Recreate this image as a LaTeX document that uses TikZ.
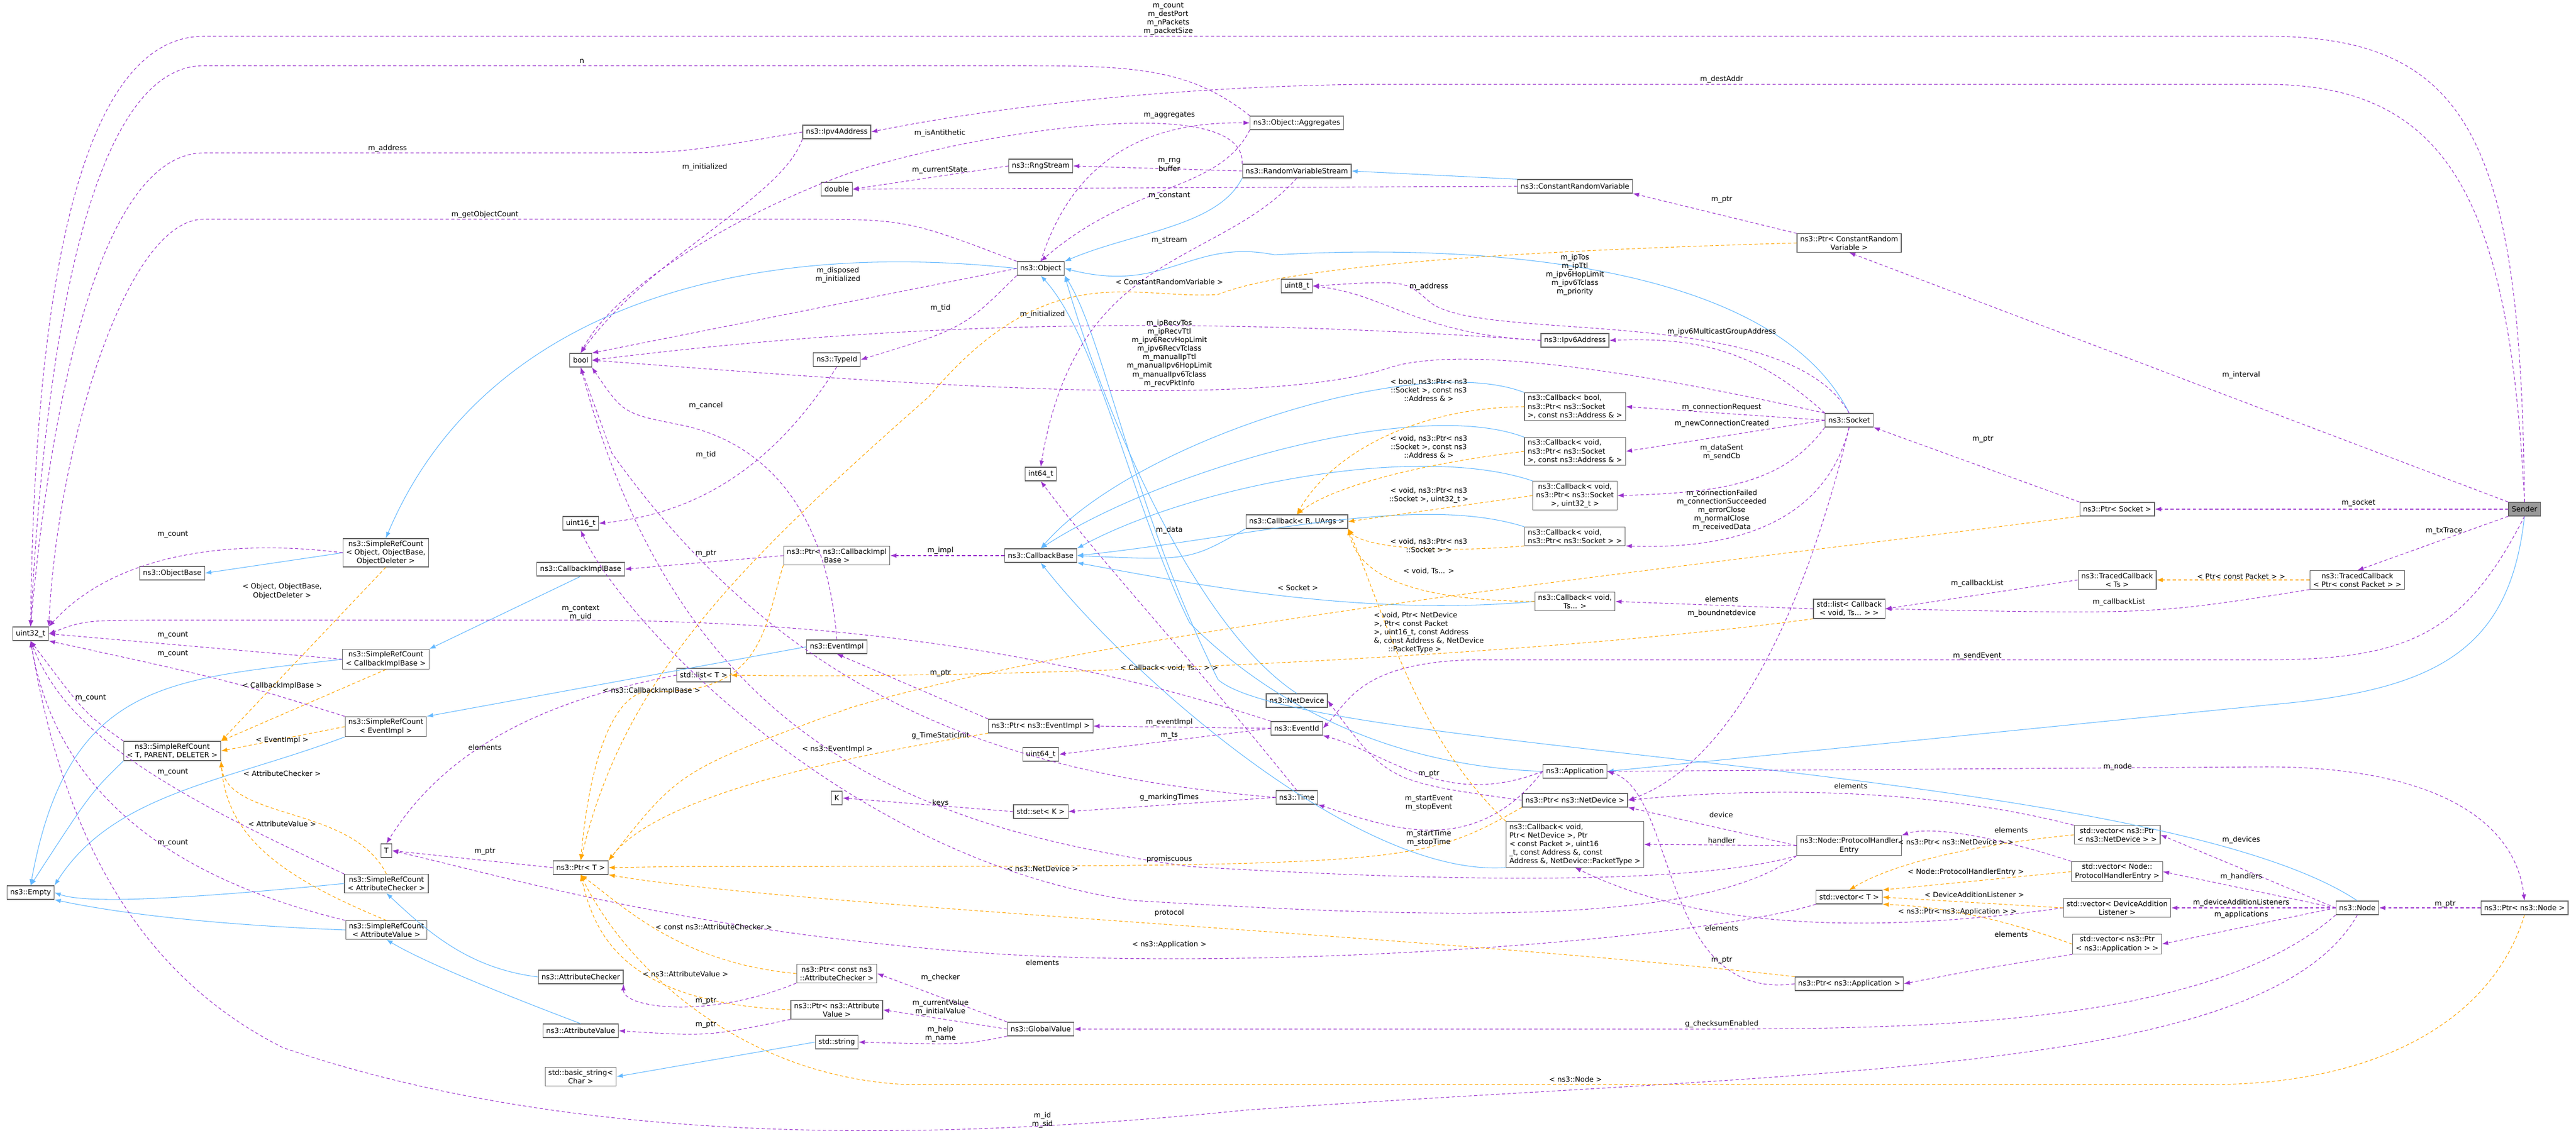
\documentclass[tikz,border=0pt]{standalone}
\usepackage{fontspec}
\setmainfont{DejaVu Sans}
\usepackage{xcolor}
\usetikzlibrary{arrows.meta, positioning}
\definecolor{usecol}{HTML}{9A32CD}
\definecolor{inhcol}{HTML}{63B8FF}
\definecolor{tplcol}{HTML}{FFA500}
\definecolor{boxcol}{HTML}{666666}

\begin{document}
\begin{tikzpicture}[
			font=\fontsize{3.6}{4.3}\selectfont,
			ClassBox/.style={
				draw=boxcol, line width=0.35pt, fill=white, align=center,
				inner xsep=1.6pt, inner ysep=1.1pt, minimum height=0.24cm
			},
			UseEdge/.style={draw=usecol, dash pattern=on 1.6pt off 1.2pt, line width=0.3pt,
				-{Latex[length=1.1mm,width=0.8mm]}},
			InhEdge/.style={draw=inhcol, line width=0.3pt, -{Latex[length=1.1mm,width=0.8mm]}},
			TplEdge/.style={draw=tplcol, dash pattern=on 1.6pt off 1.2pt, line width=0.3pt,
				-{Latex[length=1.1mm,width=0.8mm]}},
			EdgeLabel/.style={inner sep=0.3pt, align=center}
			]
			\useasboundingbox (0,0) rectangle (45.47,-20.27);
			
			% classes
			\node [ClassBox, fill={rgb,255:red,153;green,153;blue,153}] (Sender) at (44.56,-8.99) {Sender};
			\node [ClassBox] (Ipv4) at (14.77,-2.33) {ns3::Ipv4Address};
			\node [ClassBox] (Aggr) at (22.89,-2.17) {ns3::Object::Aggregates};
			\node [ClassBox] (Rng) at (18.37,-2.93) {ns3::RngStream};
			\node [ClassBox] (Rvs) at (22.89,-3.02) {ns3::RandomVariableStream};
			\node [ClassBox] (Dbl) at (14.77,-3.34) {double};
			\node [ClassBox] (Crv) at (27.80,-3.29) {ns3::ConstantRandomVariable};
			\node [ClassBox] (Obj) at (18.37,-4.74) {ns3::Object};
			\node [ClassBox] (PtrCrv) at (32.64,-4.29) {ns3::Ptr< ConstantRandom\\Variable >};
			\node [ClassBox] (UEight) at (22.89,-5.05) {uint8\_t};
			\node [ClassBox] (Bool) at (10.25,-6.36) {bool};
			\node [ClassBox] (Ipv6) at (27.80,-6.01) {ns3::Ipv6Address};
			\node [ClassBox] (TypeId) at (14.77,-6.35) {ns3::TypeId};
			\node [ClassBox] (Socket) at (32.64,-7.42) {ns3::Socket};
			\node [ClassBox, align=left] (CbBool) at (27.80,-7.18) {ns3::Callback< bool,\\ ns3::Ptr< ns3::Socket\\ >, const ns3::Address \& >};
			\node [ClassBox, align=left] (CbAddr) at (27.80,-7.97) {ns3::Callback< void,\\ ns3::Ptr< ns3::Socket\\ >, const ns3::Address \& >};
			\node [ClassBox] (CbUint) at (27.80,-8.75) {ns3::Callback< void,\\ ns3::Ptr< ns3::Socket\\ >, uint32\_t >};
			\node [ClassBox, align=left] (CbSock) at (27.80,-9.47) {ns3::Callback< void,\\ ns3::Ptr< ns3::Socket > >};
			\node [ClassBox] (SFour) at (18.37,-8.37) {int64\_t};
			\node [ClassBox] (USixteen) at (10.25,-9.24) {uint16\_t};
			\node [ClassBox] (SrcObj) at (6.81,-9.76) {ns3::SimpleRefCount\\< Object, ObjectBase,\\ ObjectDeleter >};
			\node [ClassBox] (CbImplBase) at (10.25,-10.05) {ns3::CallbackImplBase};
			\node [ClassBox] (PtrCbImpl) at (14.77,-9.81) {ns3::Ptr< ns3::CallbackImpl\\Base >};
			\node [ClassBox] (CbBase) at (18.37,-9.81) {ns3::CallbackBase};
			\node [ClassBox] (CbR) at (22.89,-9.21) {ns3::Callback< R, UArgs >};
			\node [ClassBox] (PtrSock) at (37.37,-8.99) {ns3::Ptr< Socket >};
			\node [ClassBox] (ObjBase) at (3.04,-10.12) {ns3::ObjectBase};
			\node [ClassBox] (UThirtyTwo) at (0.54,-11.19) {uint32\_t};
			\node [ClassBox] (SrcCbImpl) at (6.81,-11.64) {ns3::SimpleRefCount\\< CallbackImplBase >};
			\node [ClassBox] (CbTs) at (27.80,-10.62) {ns3::Callback< void,\\ Ts... >};
			\node [ClassBox] (ListCb) at (32.64,-10.75) {std::list< Callback\\< void, Ts... > >};
			\node [ClassBox] (TcTs) at (37.37,-10.24) {ns3::TracedCallback\\< Ts >};
			\node [ClassBox] (TcPkt) at (41.61,-10.24) {ns3::TracedCallback\\< Ptr< const Packet > >};
			\node [ClassBox] (EvImpl) at (14.77,-11.42) {ns3::EventImpl};
			\node [ClassBox] (ListT) at (12.42,-11.92) {std::list< T >};
			\node [ClassBox] (SrcEv) at (6.81,-12.83) {ns3::SimpleRefCount\\< EventImpl >};
			\node [ClassBox] (SrcTpd) at (3.04,-13.26) {ns3::SimpleRefCount\\< T, PARENT, DELETER >};
			\node [ClassBox] (NetDev) at (22.89,-12.37) {ns3::NetDevice};
			\node [ClassBox] (EvId) at (22.89,-12.86) {ns3::EventId};
			\node [ClassBox] (PtrEv) at (18.37,-12.82) {ns3::Ptr< ns3::EventImpl >};
			\node [ClassBox] (USixtyFour) at (18.37,-13.32) {uint64\_t};
			\node [ClassBox] (Time) at (22.89,-14.08) {ns3::Time};
			\node [ClassBox] (KT) at (14.77,-14.09) {K};
			\node [ClassBox] (SetK) at (18.37,-14.33) {std::set< K >};
			\node [ClassBox] (App) at (27.80,-13.62) {ns3::Application};
			\node [ClassBox] (PtrNetDev) at (27.80,-14.13) {ns3::Ptr< ns3::NetDevice >};
			\node [ClassBox, align=left] (CbNetDev) at (27.80,-14.91) {ns3::Callback< void,\\ Ptr< NetDevice >, Ptr\\< const Packet >, uint16\\\_t, const Address \&, const\\ Address \&, NetDevice::PacketType >};
			\node [ClassBox] (PhEntry) at (32.64,-14.93) {ns3::Node::ProtocolHandler\\Entry};
			\node [ClassBox] (VecT) at (32.64,-15.84) {std::vector< T >};
			\node [ClassBox] (PtrApp) at (32.64,-17.37) {ns3::Ptr< ns3::Application >};
			\node [ClassBox] (VecNetDev) at (37.37,-14.74) {std::vector< ns3::Ptr\\< ns3::NetDevice > >};
			\node [ClassBox] (VecPh) at (37.37,-15.39) {std::vector< Node::\\ProtocolHandlerEntry >};
			\node [ClassBox] (VecDal) at (37.37,-16.03) {std::vector< DeviceAddition\\Listener >};
			\node [ClassBox] (VecApp) at (37.37,-16.67) {std::vector< ns3::Ptr\\< ns3::Application > >};
			\node [ClassBox] (Node) at (41.61,-16.03) {ns3::Node};
			\node [ClassBox] (PtrNode) at (44.56,-16.03) {ns3::Ptr< ns3::Node >};
			\node [ClassBox] (TT) at (6.82,-15.02) {T};
			\node [ClassBox] (PtrT) at (10.25,-15.32) {ns3::Ptr< T >};
			\node [ClassBox] (Empty) at (0.54,-15.76) {ns3::Empty};
			\node [ClassBox] (SrcAc) at (6.82,-15.60) {ns3::SimpleRefCount\\< AttributeChecker >};
			\node [ClassBox] (SrcAv) at (6.82,-16.42) {ns3::SimpleRefCount\\< AttributeValue >};
			\node [ClassBox] (PtrAc) at (14.77,-17.19) {ns3::Ptr< const ns3\\::AttributeChecker >};
			\node [ClassBox] (PtrAv) at (14.77,-17.83) {ns3::Ptr< ns3::Attribute\\Value >};
			\node [ClassBox] (GVal) at (18.37,-18.17) {ns3::GlobalValue};
			\node [ClassBox] (StdStr) at (14.77,-18.40) {std::string};
			\node [ClassBox] (AttrChk) at (10.25,-17.25) {ns3::AttributeChecker};
			\node [ClassBox] (AttrVal) at (10.25,-18.20) {ns3::AttributeValue};
			\node [ClassBox] (BStr) at (10.25,-19.01) {std::basic\_string<\\Char >};
			
			% inheritance
			\draw [InhEdge] (Rvs.south west) .. controls (21.5,-4.0) and (20,-4.1) .. (Obj.north east);
			\draw [InhEdge] (Crv.north west) -- (Rvs.east);
			\draw [InhEdge] (Obj.west) .. controls (13,-4.2) and (8.5,-5.5) .. (SrcObj.north);
			\draw [InhEdge] (SrcObj.west) -- (ObjBase.east);
			\draw [InhEdge] (CbImplBase.south) -- (SrcCbImpl.north east);
			\draw [InhEdge] (EvImpl.west) -- (SrcEv.north east);
			\draw [InhEdge] (AttrChk.west) .. controls (8.3,-17.1) and (7.6,-16.5) .. (SrcAc.south);
			\draw [InhEdge] (AttrVal.north) .. controls (9,-17.6) and (7.5,-17) .. (SrcAv.south);
			\draw [InhEdge] (StdStr.west) -- (BStr.east);
			\draw [InhEdge] (SrcCbImpl.west) .. controls (3,-12.0) and (1.2,-12) .. (Empty.north);
			\draw [InhEdge] (SrcEv.south west) .. controls (4,-13.8) and (2,-14) .. (Empty.north east);
			\draw [InhEdge] (SrcTpd.south west) .. controls (1.6,-14) .. (Empty.north);
			\draw [InhEdge] (SrcAc.west) .. controls (3,-15.9) and (1.5,-15.95) .. (Empty.east);
			\draw [InhEdge] (SrcAv.west) .. controls (3,-16.3) and (1.5,-16) .. (Empty.south east);
			\draw [InhEdge] (Socket.north) .. controls (31.3,-4.6) and (26,-4.3) .. (22.5,-4.5) .. controls (21,-4.2) and (20.6,-5.2) .. (Obj.east);
			\draw [InhEdge] (NetDev.north) .. controls (21,-11) and (19.4,-7) .. (Obj.south east);
			\draw [InhEdge] (Node.north) .. controls (38,-13.5) and (23,-13.3) .. (21.5,-12) .. controls (20,-9) and (19.5,-6) .. (Obj.south east);
			\draw [InhEdge] (App.west) .. controls (24,-13.5) and (22,-12) .. (21,-11) .. controls (20,-9) and (19.4,-6) .. (Obj.south);
			\draw [InhEdge] (Sender.south) .. controls (44.3,-11.5) and (43,-12.2) .. (40,-12.45) -- (App.east);
			\draw [InhEdge] (CbR.south west) .. controls (21,-9.9) .. (CbBase.east);
			\draw [InhEdge] (CbBool.north west) .. controls (25,-6.2) and (20,-7.8) .. (CbBase.north);
			\draw [InhEdge] (CbAddr.north west) .. controls (25,-7.0) and (20.5,-8.3) .. (CbBase.north);
			\draw [InhEdge] (CbUint.north west) .. controls (25,-7.8) and (21,-8.6) .. (CbBase.north east);
			\draw [InhEdge] (CbSock.north west) .. controls (25,-8.7) and (22,-9.5) .. (CbBase.east);
			\draw [InhEdge] (CbTs.west) .. controls (24,-10.9) and (21,-10.3) .. (CbBase.south east);
			\draw [InhEdge] (CbNetDev.south west) .. controls (24,-15.5) and (20,-12) .. (CbBase.south);
			
			% usage
			\draw [UseEdge] (Sender.north) .. controls (44.5,-2.5) and (43.6,-0.64) .. (40,-0.64) -- (3.6,-0.64) .. controls (1.2,-0.64) and (0.6,-6) .. (UThirtyTwo.north);
			\draw [UseEdge] (Sender.north) .. controls (44.3,-3.5) and (43.2,-1.49) .. (40,-1.49) -- (24,-1.49) .. controls (20,-1.55) and (17,-2.0) .. (Ipv4.east);
			\draw [UseEdge] (Aggr.north west) .. controls (21,-1.2) and (20,-1.16) .. (18,-1.16) -- (3.6,-1.16) .. controls (1.6,-1.16) and (0.8,-6) .. (UThirtyTwo.north);
			\draw [UseEdge] (Ipv4.west) .. controls (12,-2.7) .. (10.5,-2.70) -- (3.6,-2.70) .. controls (1.8,-2.7) and (0.9,-7) .. (UThirtyTwo.north);
			\draw [UseEdge] (Obj.north west) .. controls (16,-3.87) .. (14,-3.87) -- (3.6,-3.87) .. controls (2.2,-3.87) and (1.0,-8) .. (UThirtyTwo.north east);
			\draw [UseEdge] (Obj.west) -- (Bool.north east);
			\draw [UseEdge] (Obj.south west) .. controls (17,-5.8) .. (TypeId.east);
			\draw [UseEdge] (Obj.north) .. controls (19,-2.6) and (20.5,-2.15) .. (Aggr.west);
			\draw [UseEdge] (Aggr.south west) .. controls (21.5,-3.4) and (20,-3.2) .. (Obj.north);
			\draw [UseEdge] (Rvs.west) -- (Rng.east);
			\draw [UseEdge] (Rng.west) -- (Dbl.east);
			\draw [UseEdge] (Crv.west) -- (Dbl.east);
			\draw [UseEdge] (Rvs.north west) .. controls (22,-1.7) and (18,-2.2) .. (15.5,-2.9) .. controls (14,-3.3) and (11,-4.8) .. (Bool.north);
			\draw [UseEdge] (Ipv4.south west) .. controls (13.8,-3.5) and (11.5,-4.5) .. (Bool.north);
			\draw [UseEdge] (Rvs.south) .. controls (21.5,-4.7) and (19,-4.4) .. (SFour.north);
			\draw [UseEdge] (PtrCrv.north west) -- (Crv.south east);
			\draw [UseEdge] (Sender.north west) -- (PtrCrv.south);
			\draw [UseEdge] (Socket.north) .. controls (31.5,-5.3) and (26,-6.1) .. (25.2,-5.3) .. controls (24.8,-4.95) .. (UEight.east);
			\draw [UseEdge] (Ipv6.west) .. controls (25,-5.9) and (24.5,-5.2) .. (UEight.east);
			\draw [UseEdge] (Ipv6.west) .. controls (20,-5.5) and (15,-5.8) .. (Bool.east);
			\draw [UseEdge] (Socket.north west) .. controls (30,-6.8) and (26,-6.0) .. (24.5,-6.5) .. controls (22,-7.3) and (15,-6.7) .. (Bool.east);
			\draw [UseEdge] (Socket.north west) .. controls (31,-6.2) and (30,-5.95) .. (Ipv6.east);
			\draw [UseEdge] (Socket.west) -- (CbBool.east);
			\draw [UseEdge] (Socket.west) -- (CbAddr.east);
			\draw [UseEdge] (Socket.south west) .. controls (31.5,-8.5) and (30.5,-8.7) .. (CbUint.east);
			\draw [UseEdge] (Socket.south) .. controls (32.2,-9.3) and (30.5,-9.7) .. (CbSock.south east);
			\draw [UseEdge] (Socket.south) .. controls (31.8,-11) and (30.5,-13.5) .. (PtrNetDev.east);
			\draw [UseEdge] (PtrSock.north west) -- (Socket.south east);
			\draw [UseEdge] (Sender.west) -- (PtrSock.east);
			\draw [UseEdge] (Sender.south west) -- (TcPkt.north);
			\draw [UseEdge] (TcTs.west) -- (ListCb.east);
			\draw [UseEdge] (TcPkt.south west) .. controls (38,-10.85) .. (ListCb.east);
			\draw [UseEdge] (ListCb.west) -- (CbTs.east);
			\draw [UseEdge] (Sender.south) .. controls (43.5,-11.2) and (42.5,-11.65) .. (40,-11.65) -- (26,-11.65) .. controls (24,-11.7) and (23.8,-12.4) .. (EvId.east);
			\draw [UseEdge] (App.east) -- (40,-13.54) .. controls (43,-13.54) and (44.4,-14.5) .. (PtrNode.north);
			\draw [UseEdge] (PtrNode.west) -- (Node.east);
			\draw [UseEdge] (Node.west) -- (VecNetDev.east);
			\draw [UseEdge] (Node.west) -- (VecPh.east);
			\draw [UseEdge] (Node.west) -- (VecDal.east);
			\draw [UseEdge] (Node.west) -- (VecApp.east);
			\draw [UseEdge] (Node.south) .. controls (40,-19) and (32,-18.9) .. (22,-19.6) .. controls (16,-20.2) and (10,-20.2) .. (5,-18.5) .. controls (2,-17) and (1,-14) .. (UThirtyTwo.south);
			\draw [UseEdge] (Node.south west) .. controls (39,-18.1) and (34,-18.17) .. (30,-18.17) -- (GVal.east);
			\draw [UseEdge] (VecNetDev.north west) .. controls (34,-13.9) and (31,-13.9) .. (PtrNetDev.east);
			\draw [UseEdge] (VecPh.north west) .. controls (35,-14.7) and (34,-14.6) .. (PhEntry.north east);
			\draw [UseEdge] (VecApp.south west) .. controls (35,-17.1) .. (PtrApp.east);
			\draw [UseEdge] (VecDal.west) .. controls (33,-16.5) and (30,-16.4) .. (CbNetDev.south);
			\draw [UseEdge] (PhEntry.west) -- (PtrNetDev.south east);
			\draw [UseEdge] (PhEntry.west) -- (CbNetDev.east);
			\draw [UseEdge] (PhEntry.south west) .. controls (30,-15.6) and (26,-15.6) .. (21,-15.3) .. controls (16,-14.6) and (12,-13) .. (Bool.south);
			\draw [UseEdge] (PhEntry.south west) .. controls (30,-16.4) and (25,-16.2) .. (20,-15.9) .. controls (15,-15.2) and (11,-11) .. (USixteen.south);
			\draw [UseEdge] (PtrApp.west) .. controls (29.3,-17.7) and (29.6,-14) .. (App.east);
			\draw [UseEdge] (PtrNetDev.west) .. controls (24.5,-13.8) .. (NetDev.east);
			\draw [UseEdge] (App.west) .. controls (25.5,-14.3) and (24.5,-13.3) .. (EvId.south east);
			\draw [UseEdge] (App.west) .. controls (26,-15.2) and (24.5,-14.6) .. (Time.south east);
			\draw [UseEdge] (EvId.west) -- (PtrEv.east);
			\draw [UseEdge] (EvId.west) -- (USixtyFour.east);
			\draw [UseEdge] (EvId.north west) .. controls (18,-11.3) and (14,-10.95) .. (10,-10.95) -- (3,-10.95) .. controls (1.5,-10.95) .. (UThirtyTwo.east);
			\draw [UseEdge] (PtrEv.north west) -- (EvImpl.south);
			\draw [UseEdge] (EvImpl.north) .. controls (14.6,-9) and (13.5,-7.8) .. (12,-7.5) .. controls (11,-7.3) .. (Bool.south east);
			\draw [UseEdge] (Time.west) -- (SetK.east);
			\draw [UseEdge] (Time.north) .. controls (20.5,-11) and (19.5,-10) .. (SFour.south);
			\draw [UseEdge] (Time.west) .. controls (18,-13.7) and (14,-12.5) .. (10.8,-8) -- (Bool.south);
			\draw [UseEdge] (SetK.west) -- (KT.east);
			\draw [UseEdge] (ListT.west) .. controls (10,-12.3) and (8,-13) .. (TT.north);
			\draw [UseEdge] (PtrT.west) -- (TT.east);
			\draw [UseEdge] (VecT.south west) .. controls (30,-16.6) and (22,-17.2) .. (17,-16.8) .. controls (12,-16.4) and (9,-15.5) .. (TT.east);
			\draw [UseEdge] (CbBase.west) -- (PtrCbImpl.east);
			\draw [UseEdge] (PtrCbImpl.west) -- (CbImplBase.east);
			\draw [UseEdge] (TypeId.south) .. controls (13.5,-8.5) and (12,-9.1) .. (USixteen.east);
			\draw [UseEdge] (SrcObj.west) .. controls (4,-9.5) and (2,-9.8) .. (UThirtyTwo.north east);
			\draw [UseEdge] (SrcCbImpl.west) -- (UThirtyTwo.east);
			\draw [UseEdge] (SrcEv.north west) .. controls (4,-12) .. (UThirtyTwo.south east);
			\draw [UseEdge] (SrcTpd.north west) .. controls (1.5,-12.6) .. (UThirtyTwo.south);
			\draw [UseEdge] (SrcAc.north west) .. controls (3,-14) and (1.2,-13) .. (UThirtyTwo.south);
			\draw [UseEdge] (SrcAv.north west) .. controls (3,-15.5) and (1,-14) .. (UThirtyTwo.south);
			\draw [UseEdge] (GVal.north west) -- (PtrAc.east);
			\draw [UseEdge] (GVal.west) -- (PtrAv.east);
			\draw [UseEdge] (GVal.south west) .. controls (17,-18.45) .. (StdStr.east);
			\draw [UseEdge] (PtrAc.south west) .. controls (12.5,-18) and (11,-17.8) .. (AttrChk.south east);
			\draw [UseEdge] (PtrAv.south west) .. controls (12.5,-18.3) .. (AttrVal.east);
			
			% template instances
			\draw [TplEdge] (SrcObj.south) -- (SrcTpd.north east);
			\draw [TplEdge] (SrcCbImpl.south) -- (SrcTpd.north east);
			\draw [TplEdge] (SrcEv.west) -- (SrcTpd.east);
			\draw [TplEdge] (SrcAc.north) .. controls (6.2,-14.2) and (4,-14.5) .. (SrcTpd.south east);
			\draw [TplEdge] (SrcAv.north) .. controls (5,-15.5) and (4,-14.8) .. (SrcTpd.south east);
			\draw [TplEdge] (PtrCrv.west) .. controls (28,-4.4) and (23,-4.6) .. (21.5,-5.2) .. controls (20,-5.3) and (18.5,-4.5) .. (16.4,-7) .. controls (13,-10) and (11,-12) .. (PtrT.north);
			\draw [TplEdge] (PtrCbImpl.south west) .. controls (13.5,-11) and (13.5,-12.3) .. (11.5,-12.2) .. controls (10.8,-12.2) and (10.4,-13.5) .. (PtrT.north);
			\draw [TplEdge] (PtrEv.south west) .. controls (14,-13.5) and (11.5,-14.2) .. (PtrT.north east);
			\draw [TplEdge] (PtrSock.south west) .. controls (30,-10) and (20,-11) .. (15,-12.5) .. controls (12,-13.6) .. (PtrT.north east);
			\draw [TplEdge] (PtrNetDev.south west) .. controls (25,-15.3) .. (12,-15.3) -- (PtrT.east);
			\draw [TplEdge] (PtrApp.north west) .. controls (25,-16.5) and (14,-16) .. (PtrT.south east);
			\draw [TplEdge] (PtrAc.west) .. controls (12,-17) and (11,-16) .. (PtrT.south);
			\draw [TplEdge] (PtrAv.west) .. controls (11,-17.7) and (10.5,-16.5) .. (PtrT.south);
			\draw [TplEdge] (PtrNode.south) .. controls (44,-18) and (42,-19.15) .. (39,-19.15) -- (16,-19.15) .. controls (13,-19) and (11,-17) .. (PtrT.south);
			\draw [TplEdge] (CbBool.west) .. controls (25,-7.2) and (23.5,-8) .. (CbR.north);
			\draw [TplEdge] (CbAddr.west) .. controls (25,-8.2) and (23.5,-8.6) .. (CbR.north);
			\draw [TplEdge] (CbUint.west) -- (CbR.east);
			\draw [TplEdge] (CbSock.south west) .. controls (25,-9.8) and (24,-9.6) .. (CbR.south east);
			\draw [TplEdge] (CbTs.west) .. controls (25,-10.6) and (24,-10.2) .. (CbR.south east);
			\draw [TplEdge] (CbNetDev.north west) .. controls (25,-13) and (24.5,-11) .. (CbR.south east);
			\draw [TplEdge] (ListCb.south west) .. controls (27,-11.6) and (18,-12.0) .. (ListT.east);
			\draw [TplEdge] (TcPkt.west) -- (TcTs.east);
			\draw [TplEdge] (VecNetDev.west) .. controls (35,-14.9) and (33.5,-15.2) .. (VecT.north);
			\draw [TplEdge] (VecPh.west) -- (VecT.north east);
			\draw [TplEdge] (VecDal.west) -- (VecT.east);
			\draw [TplEdge] (VecApp.west) .. controls (35,-16.1) and (34,-16) .. (VecT.south east);
			
			% connector labels
			\node [EdgeLabel] (lCount) at (20.62,-0.33) {m\_count\\m\_destPort\\m\_nPackets\\m\_packetSize};
			\node [EdgeLabel] (lDestAddr) at (30.39,-1.40) {m\_destAddr};
			\node [EdgeLabel] (lN) at (10.27,-1.08) {n};
			\node [EdgeLabel] (lAddress) at (6.84,-2.62) {m\_address};
			\node [EdgeLabel] (lGetObj) at (8.56,-3.79) {m\_getObjectCount};
			\node [EdgeLabel] (lAggr) at (20.64,-2.04) {m\_aggregates};
			\node [EdgeLabel] (lIsAnti) at (16.59,-2.35) {m\_isAntithetic};
			\node [EdgeLabel] (lInitA) at (12.44,-2.95) {m\_initialized};
			\node [EdgeLabel] (lCurState) at (16.59,-3.00) {m\_currentState};
			\node [EdgeLabel] (lRng) at (20.64,-2.91) {m\_rng\\buffer};
			\node [EdgeLabel] (lConst) at (20.64,-3.46) {m\_constant};
			\node [EdgeLabel] (lStream) at (20.64,-4.25) {m\_stream};
			\node [EdgeLabel] (lDisposed) at (14.79,-4.86) {m\_disposed\\m\_initialized};
			\node [EdgeLabel] (lCrvT) at (20.64,-4.98) {< ConstantRandomVariable >};
			\node [EdgeLabel] (lTidA) at (16.60,-5.44) {m\_tid};
			\node [EdgeLabel] (lInitB) at (18.40,-5.55) {m\_initialized};
			\node [EdgeLabel] (lRecv) at (20.64,-6.24) {m\_ipRecvTos\\m\_ipRecvTtl\\m\_ipv6RecvHopLimit\\m\_ipv6RecvTclass\\m\_manualIpTtl\\m\_manualIpv6HopLimit\\m\_manualIpv6Tclass\\m\_recvPktInfo};
			\node [EdgeLabel] (lCancel) at (12.46,-7.16) {m\_cancel};
			\node [EdgeLabel] (lTidB) at (12.46,-8.03) {m\_tid};
			\node [EdgeLabel] (lData) at (20.64,-9.36) {m\_data};
			\node [EdgeLabel] (lImpl) at (16.60,-9.72) {m\_impl};
			\node [EdgeLabel] (lPtrCb) at (12.46,-9.78) {m\_ptr};
			\node [EdgeLabel] (lPtrCrv) at (30.39,-3.53) {m\_ptr};
			\node [EdgeLabel] (lInterval) at (39.56,-6.62) {m\_interval};
			\node [EdgeLabel] (lTos) at (27.80,-4.85) {m\_ipTos\\m\_ipTtl\\m\_ipv6HopLimit\\m\_ipv6Tclass\\m\_priority};
			\node [EdgeLabel] (lAddrSix) at (25.22,-5.06) {m\_address};
			\node [EdgeLabel] (lMcast) at (30.39,-5.86) {m\_ipv6MulticastGroupAddress};
			\node [EdgeLabel] (lConnReq) at (30.39,-7.19) {m\_connectionRequest};
			\node [EdgeLabel] (lNewConn) at (30.39,-7.48) {m\_newConnectionCreated};
			\node [EdgeLabel] (lDataSent) at (30.39,-7.99) {m\_dataSent\\m\_sendCb};
			\node [EdgeLabel] (lConnFail) at (30.39,-9.01) {m\_connectionFailed\\m\_connectionSucceeded\\m\_errorClose\\m\_normalClose\\m\_receivedData};
			\node [EdgeLabel] (lCbBoolT) at (25.22,-6.89) {< bool, ns3::Ptr< ns3\\::Socket >, const ns3\\::Address \& >};
			\node [EdgeLabel] (lCbAddrT) at (25.22,-7.89) {< void, ns3::Ptr< ns3\\::Socket >, const ns3\\::Address \& >};
			\node [EdgeLabel] (lCbUintT) at (25.22,-8.75) {< void, ns3::Ptr< ns3\\::Socket >, uint32\_t >};
			\node [EdgeLabel] (lCbSockT) at (25.22,-9.63) {< void, ns3::Ptr< ns3\\::Socket > >};
			\node [EdgeLabel] (lCbTsT) at (25.22,-10.08) {< void, Ts... >};
			\node [EdgeLabel, align=left] (lCbNetT) at (25.22,-11.17) {< void, Ptr< NetDevice\\>, Ptr< const Packet\\>, uint16\_t, const Address\\\&, const Address \&, NetDevice\\\hspace{2em}::PacketType >};
			\node [EdgeLabel] (lPtrSock) at (35.00,-7.76) {m\_ptr};
			\node [EdgeLabel] (lSocket) at (41.63,-8.88) {m\_socket};
			\node [EdgeLabel] (lTxTrace) at (43.14,-9.37) {m\_txTrace};
			\node [EdgeLabel] (lPktT) at (39.56,-10.18) {< Ptr< const Packet > >};
			\node [EdgeLabel] (lCbListA) at (34.90,-10.30) {m\_callbackList};
			\node [EdgeLabel] (lCbListB) at (37.40,-10.63) {m\_callbackList};
			\node [EdgeLabel] (lElemCb) at (30.39,-10.58) {elements};
			\node [EdgeLabel] (lBound) at (30.39,-10.83) {m\_boundnetdevice};
			\node [EdgeLabel] (lSockT) at (22.91,-10.38) {< Socket >};
			\node [EdgeLabel] (lContext) at (10.25,-10.82) {m\_context\\m\_uid};
			\node [EdgeLabel] (lSendEv) at (34.90,-11.58) {m\_sendEvent};
			\node [EdgeLabel] (lListT) at (20.64,-11.79) {< Callback< void, Ts... > >};
			\node [EdgeLabel] (lCbImplT) at (11.50,-12.20) {< ns3::CallbackImplBase >};
			\node [EdgeLabel] (lPtrEv) at (16.60,-11.89) {m\_ptr};
			\node [EdgeLabel] (lElemT) at (8.56,-13.20) {elements};
			\node [EdgeLabel] (lEvImpl) at (20.64,-12.75) {m\_eventImpl};
			\node [EdgeLabel] (lTs) at (20.64,-12.99) {m\_ts};
			\node [EdgeLabel] (lStatic) at (16.60,-12.99) {g\_TimeStaticInit};
			\node [EdgeLabel] (lEvT) at (14.78,-13.23) {< ns3::EventImpl >};
			\node [EdgeLabel] (lPtrNd) at (25.22,-13.67) {m\_ptr};
			\node [EdgeLabel] (lStartEv) at (25.22,-14.18) {m\_startEvent\\m\_stopEvent};
			\node [EdgeLabel] (lStartT) at (25.22,-14.80) {m\_startTime\\m\_stopTime};
			\node [EdgeLabel] (lNode) at (37.38,-13.54) {m\_node};
			\node [EdgeLabel] (lElemNd) at (32.67,-13.88) {elements};
			\node [EdgeLabel] (lDevice) at (30.38,-14.39) {device};
			\node [EdgeLabel] (lHandler) at (30.39,-14.84) {handler};
			\node [EdgeLabel] (lElemPh) at (35.50,-14.66) {elements};
			\node [EdgeLabel] (lMarking) at (20.64,-14.08) {g\_markingTimes};
			\node [EdgeLabel] (lKeys) at (16.60,-14.18) {keys};
			\node [EdgeLabel] (lPtrT) at (8.56,-15.04) {m\_ptr};
			\node [EdgeLabel] (lPromisc) at (20.64,-15.17) {promiscuous};
			\node [EdgeLabel] (lNetDevT) at (18.40,-15.34) {< ns3::NetDevice >};
			\node [EdgeLabel] (lDevices) at (39.56,-14.83) {m\_devices};
			\node [EdgeLabel] (lHandlers) at (39.56,-15.48) {m\_handlers};
			\node [EdgeLabel] (lDal) at (39.56,-15.94) {m\_deviceAdditionListeners};
			\node [EdgeLabel] (lApps) at (39.56,-16.15) {m\_applications};
			\node [EdgeLabel] (lPtrNode) at (43.16,-15.97) {m\_ptr};
			\node [EdgeLabel] (lVecNdT) at (34.52,-14.87) {< ns3::Ptr< ns3::NetDevice > >};
			\node [EdgeLabel] (lVecPhT) at (34.70,-15.40) {< Node::ProtocolHandlerEntry >};
			\node [EdgeLabel] (lVecDalT) at (34.85,-15.80) {< DeviceAdditionListener >};
			\node [EdgeLabel] (lVecAppT) at (34.55,-16.10) {< ns3::Ptr< ns3::Application > >};
			\node [EdgeLabel] (lProtocol) at (20.64,-16.12) {protocol};
			\node [EdgeLabel] (lElemDal) at (30.39,-16.39) {elements};
			\node [EdgeLabel] (lElemApp) at (35.50,-16.50) {elements};
			\node [EdgeLabel] (lAppT) at (20.64,-16.68) {< ns3::Application >};
			\node [EdgeLabel] (lElemVec) at (18.40,-17.00) {elements};
			\node [EdgeLabel] (lPtrApp) at (30.39,-16.96) {m\_ptr};
			\node [EdgeLabel] (lAcT) at (12.60,-16.37) {< const ns3::AttributeChecker >};
			\node [EdgeLabel] (lAvT) at (12.10,-17.20) {< ns3::AttributeValue >};
			\node [EdgeLabel] (lChecker) at (16.60,-17.26) {m\_checker};
			\node [EdgeLabel] (lCurVal) at (16.60,-17.79) {m\_currentValue\\m\_initialValue};
			\node [EdgeLabel] (lHelp) at (16.60,-18.26) {m\_help\\m\_name};
			\node [EdgeLabel] (lPtrAc) at (12.46,-17.68) {m\_ptr};
			\node [EdgeLabel] (lPtrAv) at (12.46,-18.10) {m\_ptr};
			\node [EdgeLabel] (lChecksum) at (30.39,-18.08) {g\_checksumEnabled};
			\node [EdgeLabel] (lNodeT) at (27.81,-19.06) {< ns3::Node >};
			\node [EdgeLabel] (lId) at (18.40,-19.78) {m\_id\\m\_sid};
			\node [EdgeLabel] (lObjT) at (4.98,-10.44) {< Object, ObjectBase,\\ObjectDeleter >};
			\node [EdgeLabel] (lCbImplBaseT) at (4.98,-12.11) {< CallbackImplBase >};
			\node [EdgeLabel] (lEvImplT) at (4.98,-13.07) {< EventImpl >};
			\node [EdgeLabel] (lAcTT) at (4.98,-13.66) {< AttributeChecker >};
			\node [EdgeLabel] (lAvTT) at (4.98,-14.55) {< AttributeValue >};
			\node [EdgeLabel] (lCntA) at (3.05,-9.44) {m\_count};
			\node [EdgeLabel] (lCntB) at (3.05,-11.22) {m\_count};
			\node [EdgeLabel] (lCntC) at (3.05,-11.55) {m\_count};
			\node [EdgeLabel] (lCntD) at (1.60,-12.33) {m\_count};
			\node [EdgeLabel] (lCntE) at (3.05,-13.64) {m\_count};
			\node [EdgeLabel] (lCntF) at (3.05,-14.89) {m\_count};
		\end{tikzpicture}
\end{document}
